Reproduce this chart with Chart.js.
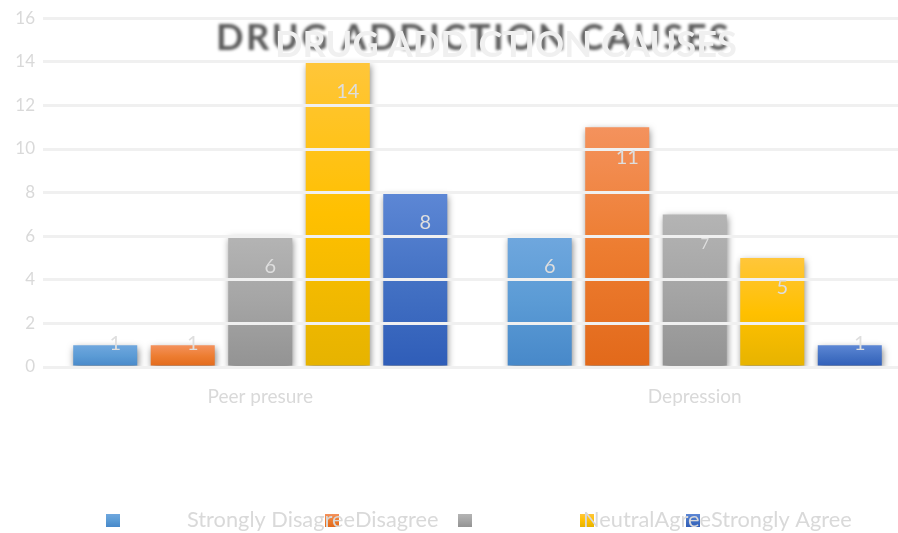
<!DOCTYPE html>
<html>
<head>
<meta charset="utf-8">
<script src="https://cdn.jsdelivr.net/npm/chart.js@4/dist/chart.umd.min.js"></script>
<style>
  html, body { margin: 0; padding: 0; background: #ffffff; overflow: hidden; }
  #wrap { position: relative; width: 920px; height: 533px; }
</style>
</head>
<body>
<div id="wrap"><canvas id="c" width="920" height="533"></canvas></div>
<script>
// ---- data ----
const categories = ['Peer presure', 'Depression'];
const seriesNames = ['Strongly Disagree', 'Disagree', 'Neutral', 'Agree', 'Strongly Agree'];
const stronglyDisagree = [1, 6];
const disagree = [1, 11];
const neutral = [6, 7];
const agree = [14, 5];
const stronglyAgree = [8, 1];
const yMin = 0, yMax = 16, yStep = 2;
const titleText = 'DRUG ADDICTION CAUSES';

// ---- styles ----
const gradStops = [
  ['#6fa7de', '#5b9bd5', '#4788c9'],
  ['#f4925d', '#ed7d31', '#e2691a'],
  ['#b4b4b4', '#a5a5a5', '#939393'],
  ['#ffc63a', '#ffc000', '#e6b300'],
  ['#5d87d5', '#4472c4', '#2f5db8']
];
const FONT = 'Lato, "Open Sans", sans-serif';
const seriesValues = [stronglyDisagree, disagree, neutral, agree, stronglyAgree];

function barGradient(ctx, i) {
  const chart = ctx.chart;
  const ys = chart.scales && chart.scales.y;
  if (!chart.chartArea || !ys || ctx.type !== 'data') return gradStops[i][1];
  const v = ctx.parsed ? ctx.parsed.y : ctx.raw;
  const top = ys.getPixelForValue(v), bot = ys.getPixelForValue(0);
  if (!isFinite(top) || !isFinite(bot) || top === bot) return gradStops[i][1];
  const g = chart.ctx.createLinearGradient(0, top, 0, bot);
  g.addColorStop(0, gradStops[i][0]);
  g.addColorStop(0.5, gradStops[i][1]);
  g.addColorStop(1, gradStops[i][2]);
  return g;
}

const shadowPlugin = {
  id: 'barShadow',
  beforeDatasetsDraw(chart) {
    const c = chart.ctx;
    c.save();
    c.shadowColor = 'rgba(0,0,0,0.5)';
    c.shadowBlur = 7;
    c.shadowOffsetX = 1;
    c.shadowOffsetY = 3;
  },
  afterDatasetsDraw(chart) { chart.ctx.restore(); }
};

const labelPlugin = {
  id: 'valueLabels',
  afterDraw(chart) {
    const c = chart.ctx;
    c.save();
    c.fillStyle = '#dedede';
    c.textAlign = 'center';
    c.textBaseline = 'middle';
    chart.data.datasets.forEach((ds, di) => {
      const meta = chart.getDatasetMeta(di);
      meta.data.forEach((bar, j) => {
        const v = ds.data[j];
        const h = bar.base - bar.y;
        let y = h < 40 ? bar.y - 2 : bar.y + 30;
        const small = (di === 2 && j === 1);
        c.font = (small ? '15px ' : '20px ') + FONT;
        c.fillText(String(v), bar.x + 10, y);
      });
    });
    c.restore();
  }
};

const titlePlugin = {
  id: 'fancyTitle',
  afterDraw(chart) {
    const c = chart.ctx;
    c.save();
    c.textBaseline = 'alphabetic';
    c.textAlign = 'left';
    c.font = 'bold 40px ' + FONT;
    const w40 = c.measureText(titleText).width;
    const fs = 40 * 462 / w40;
    c.font = 'bold ' + fs.toFixed(2) + 'px ' + FONT;
    const w = c.measureText(titleText).width;
    const ls = (512 - w) / (titleText.length - 1);
    c.save();
    c.filter = 'blur(1.6px)';
    c.fillStyle = '#5a5a5a';
    let x = 216;
    for (const ch of titleText) {
      c.fillText(ch, x, 50);
      x += c.measureText(ch).width + ls;
    }
    c.restore();
    c.fillStyle = '#f0f0f0';
    c.fillText(titleText, 275, 57);
    c.restore();
  }
};

const legendPlugin = {
  id: 'oddLegend',
  afterDraw(chart) {
    const c = chart.ctx;
    c.save();
    c.font = '20px ' + FONT;
    const base = c.measureText('Strongly Disagree').width;
    const fs = 20 * 168 / base;
    c.font = fs.toFixed(2) + 'px ' + FONT;
    c.textBaseline = 'alphabetic';
    c.textAlign = 'left';
    const boxX = [106, 325, 458, 580, 686];
    const textStart = [187, null, 583, null, null];
    let tx = 0;
    seriesNames.forEach((name, i) => {
      const g = c.createLinearGradient(0, 514, 0, 527);
      g.addColorStop(0, gradStops[i][0]);
      g.addColorStop(0.5, gradStops[i][1]);
      g.addColorStop(1, gradStops[i][2]);
      c.fillStyle = g;
      c.fillRect(boxX[i], 514, 14, 13);
    });
    c.fillStyle = '#d9d9d9';
    seriesNames.forEach((name, i) => {
      if (textStart[i] !== null) tx = textStart[i];
      c.fillText(name, tx, 527);
      tx += c.measureText(name).width;
    });
    c.restore();
  }
};

new Chart(document.getElementById('c'), {
  type: 'bar',
  data: {
    labels: categories,
    datasets: seriesNames.map((name, i) => ({
      label: name,
      data: seriesValues[i],
      backgroundColor: (ctx) => barGradient(ctx, i),
      borderWidth: 0,
      categoryPercentage: 0.892,
      barPercentage: 0.826
    }))
  },
  options: {
    responsive: false,
    animation: false,
    devicePixelRatio: 1,
    layout: { padding: { left: 0, right: 8, top: 18, bottom: 116 } },
    plugins: {
      legend: { display: false },
      title: { display: false },
      tooltip: { enabled: false }
    },
    scales: {
      x: {
        grid: { display: false, drawTicks: false },
        border: { display: false },
        ticks: { color: '#d9d9d9', font: { family: FONT, size: 19 }, padding: 18 },
        afterFit(scale) { scale.height = 50; }
      },
      y: {
        min: yMin, max: yMax,
        grid: { color: '#f0f0f0', lineWidth: 3, drawTicks: false, z: 1 },
        border: { display: false },
        ticks: { stepSize: yStep, color: '#d9d9d9', font: { family: FONT, size: 17 }, padding: 8 },
        afterFit(scale) { scale.width = 43; }
      }
    }
  },
  plugins: [shadowPlugin, labelPlugin, titlePlugin, legendPlugin]
});
</script>
</body>
</html>
